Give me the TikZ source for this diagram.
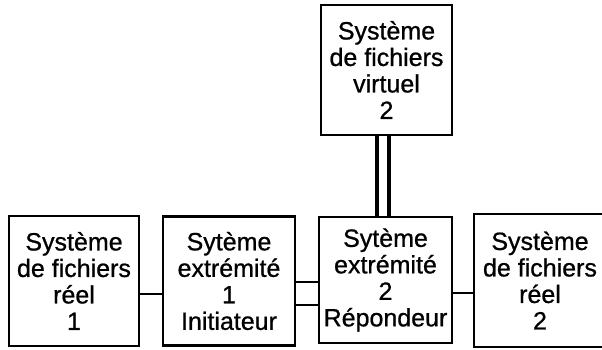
\documentclass[tikz,border=0pt]{standalone}
\usepackage{fontspec}
\setmainfont{Liberation Sans}[FakeBold=0.8]
\begin{document}
\begin{tikzpicture}[x=1pt,y=1pt,
  boxst/.style={draw=black, line width=2.6pt, fill=white, align=center, inner sep=0pt,
    font=\fontsize{25}{26.5}\selectfont, text=black},
  link/.style={line width=2.4pt}]
\useasboundingbox (0,0) rectangle (602,350);
\clip (0,0) rectangle (602,350);
\node[boxst, minimum width=130, minimum height=130] (r1) at (74,69) {Système\\de fichiers\\réel\\1};
\node[boxst, minimum width=132, minimum height=129] (s1) at (229,69) {Sytème\\extrémité\\1\\Initiateur};
\node[boxst, minimum width=133, minimum height=126] (s2) at (385.5,70) {Sytème\\extrémité\\2\\Répondeur};
\node[boxst, minimum width=132, minimum height=133] (r2) at (540,69.5) {Système\\de fichiers\\réel\\2};
\node[boxst, minimum width=131, minimum height=130] (v2) at (386.5,280) {Système\\de fichiers\\virtuel\\2};
\draw[link] (r1.east |- 0,56) -- (s1.west |- 0,56);
\draw[link] (s1.east |- 0,68) -- (s2.west |- 0,68);
\draw[link] (s1.east |- 0,45) -- (s2.west |- 0,45);
\draw[link] (s2.east |- 0,57) -- (r2.west |- 0,57);
\draw[line width=3.4pt] (v2.south -| 377,0) -- (s2.north -| 377,0);
\draw[line width=3.4pt] (v2.south -| 389,0) -- (s2.north -| 389,0);
\end{tikzpicture}
\end{document}
